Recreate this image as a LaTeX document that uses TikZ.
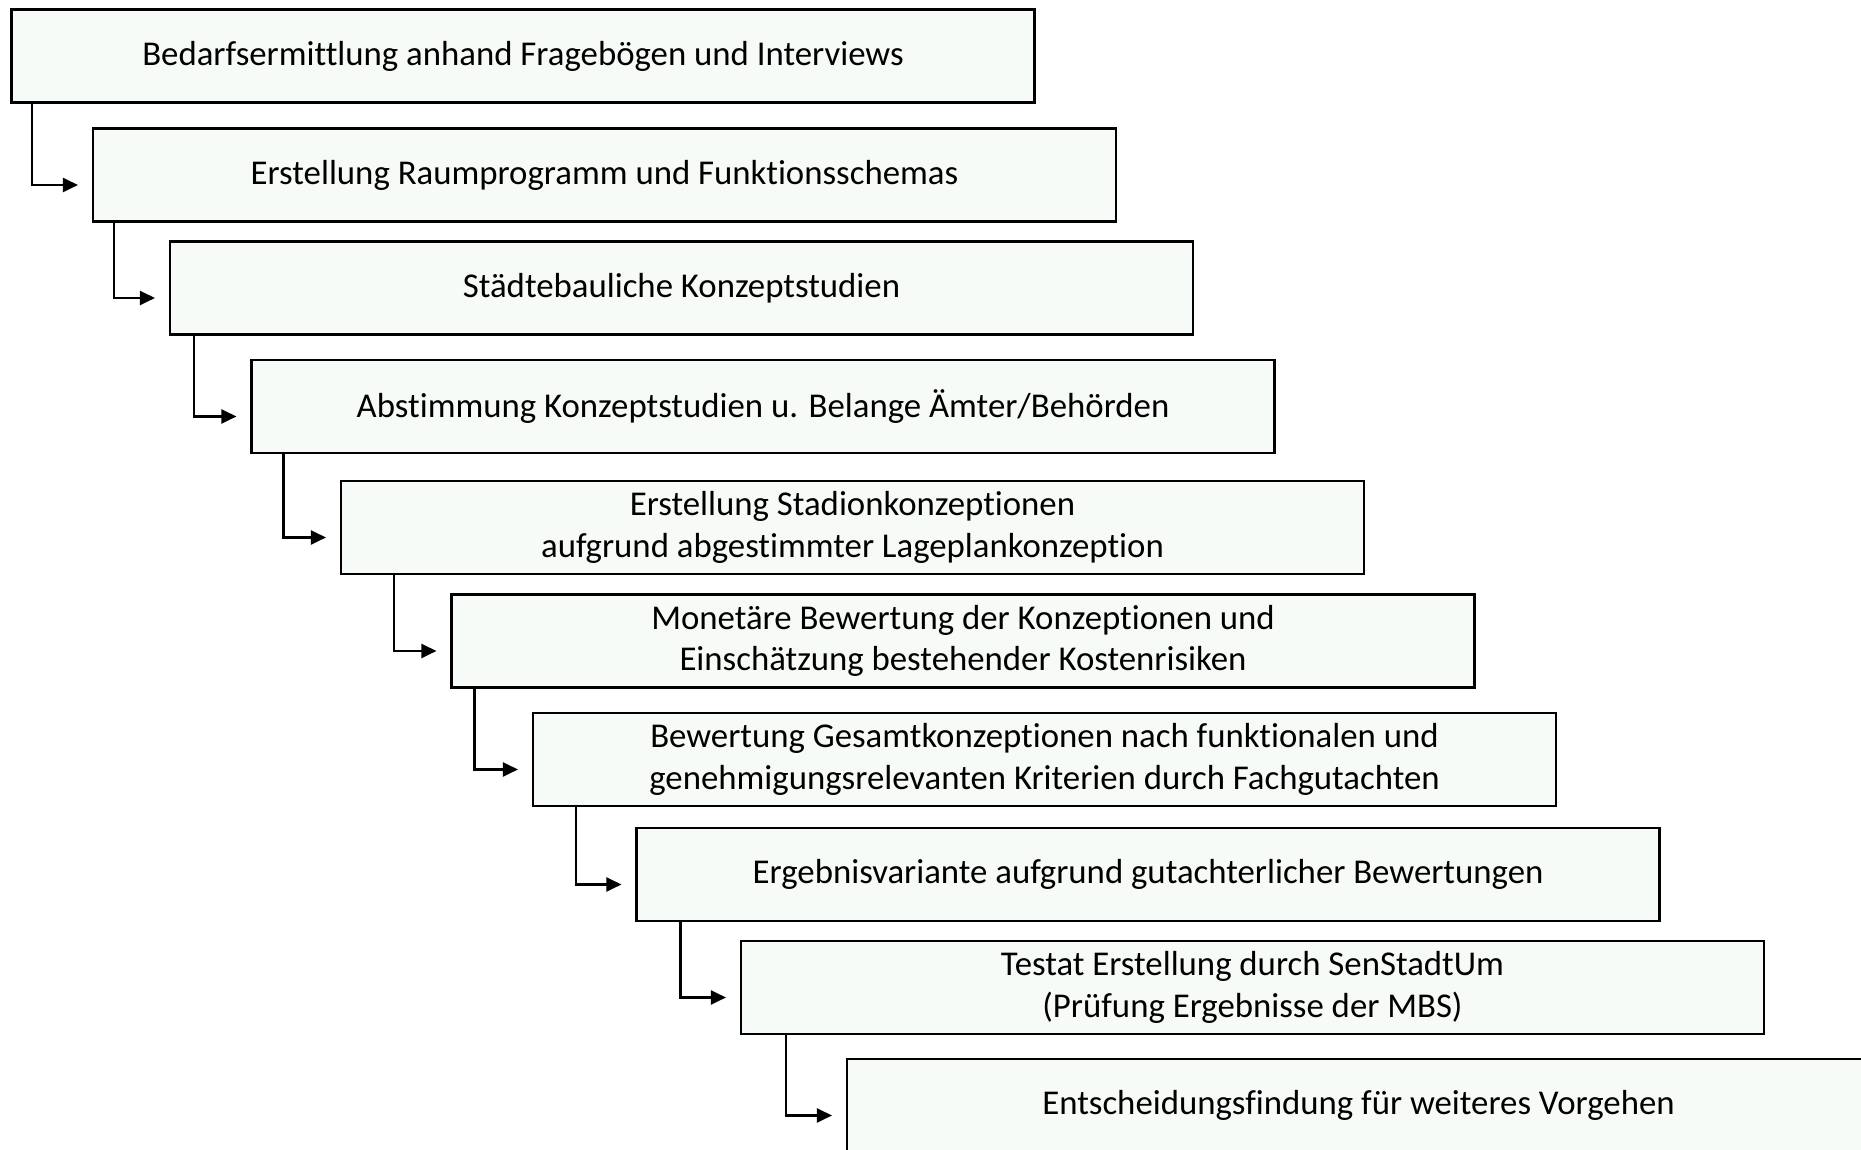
\documentclass[tikz,border=0pt]{standalone}
\usepackage{fontspec}
\setmainfont{Carlito}[Ligatures=NoCommon]
\usetikzlibrary{arrows.meta}
\definecolor{boxfill}{RGB}{247,251,247}
\tikzset{
  stage/.style={draw=black, line width=0.6pt, fill=boxfill, minimum width=10.23cm,
    minimum height=0.93cm, inner sep=0pt, align=center,
    font=\fontsize{9.9}{11.8}\selectfont},
  flow/.style={line width=0.6pt, -{Triangle[length=1.5mm,width=1.4mm]}}
}
\begin{document}
\begin{tikzpicture}
      \useasboundingbox (0,0) rectangle (18.61,-11.5);
      \clip (0,0) rectangle (18.61,-11.5);

      % Stufen von oben nach unten
      \node[stage] (b1) at (5.23,-0.56) {Bedarfsermittlung anhand Fragebögen und Interviews};
      \node[stage] (b2) at (6.045,-1.75) {Erstellung Raumprogramm und Funktionsschemas};
      \node[stage] (b3) at (6.815,-2.88) {Städtebauliche Konzeptstudien};
      \node[stage] (b4) at (7.63,-4.065) {Abstimmung Konzeptstudien u. Belange Ämter/Behörden};
      \node[stage] (b5) at (8.525,-5.275) {Erstellung Stadionkonzeptionen\\aufgrund abgestimmter Lageplankonzeption};
      \node[stage] (b6) at (9.63,-6.41) {Monetäre Bewertung der Konzeptionen und\\Einschätzung bestehender Kostenrisiken};
      \node[stage] (b7) at (10.445,-7.595) {Bewertung Gesamtkonzeptionen nach funktionalen und\\genehmigungsrelevanten Kriterien durch Fachgutachten};
      \node[stage] (b8) at (11.48,-8.745) {Ergebnisvariante aufgrund gutachterlicher Bewertungen};
      \node[stage] (b9) at (12.525,-9.875) {Testat Erstellung durch SenStadtUm\\(Prüfung Ergebnisse der MBS)};
      \node[stage] (b10) at (13.585,-11.055) {Entscheidungsfindung für weiteres Vorgehen};

      % Pfeile
      \foreach \i/\o in {1/2.2,2/2.2,3/2.5,4/3.3,5/5.4,6/2.4,7/4.4,8/4.5,9/4.6}
      {\pgfmathtruncatemacro{\j}{\i+1}
       \draw[flow] ([xshift=\o mm]b\i.south west) |- ([xshift=-1.4mm,yshift=-1mm]b\j.west);}
\end{tikzpicture}
\end{document}
